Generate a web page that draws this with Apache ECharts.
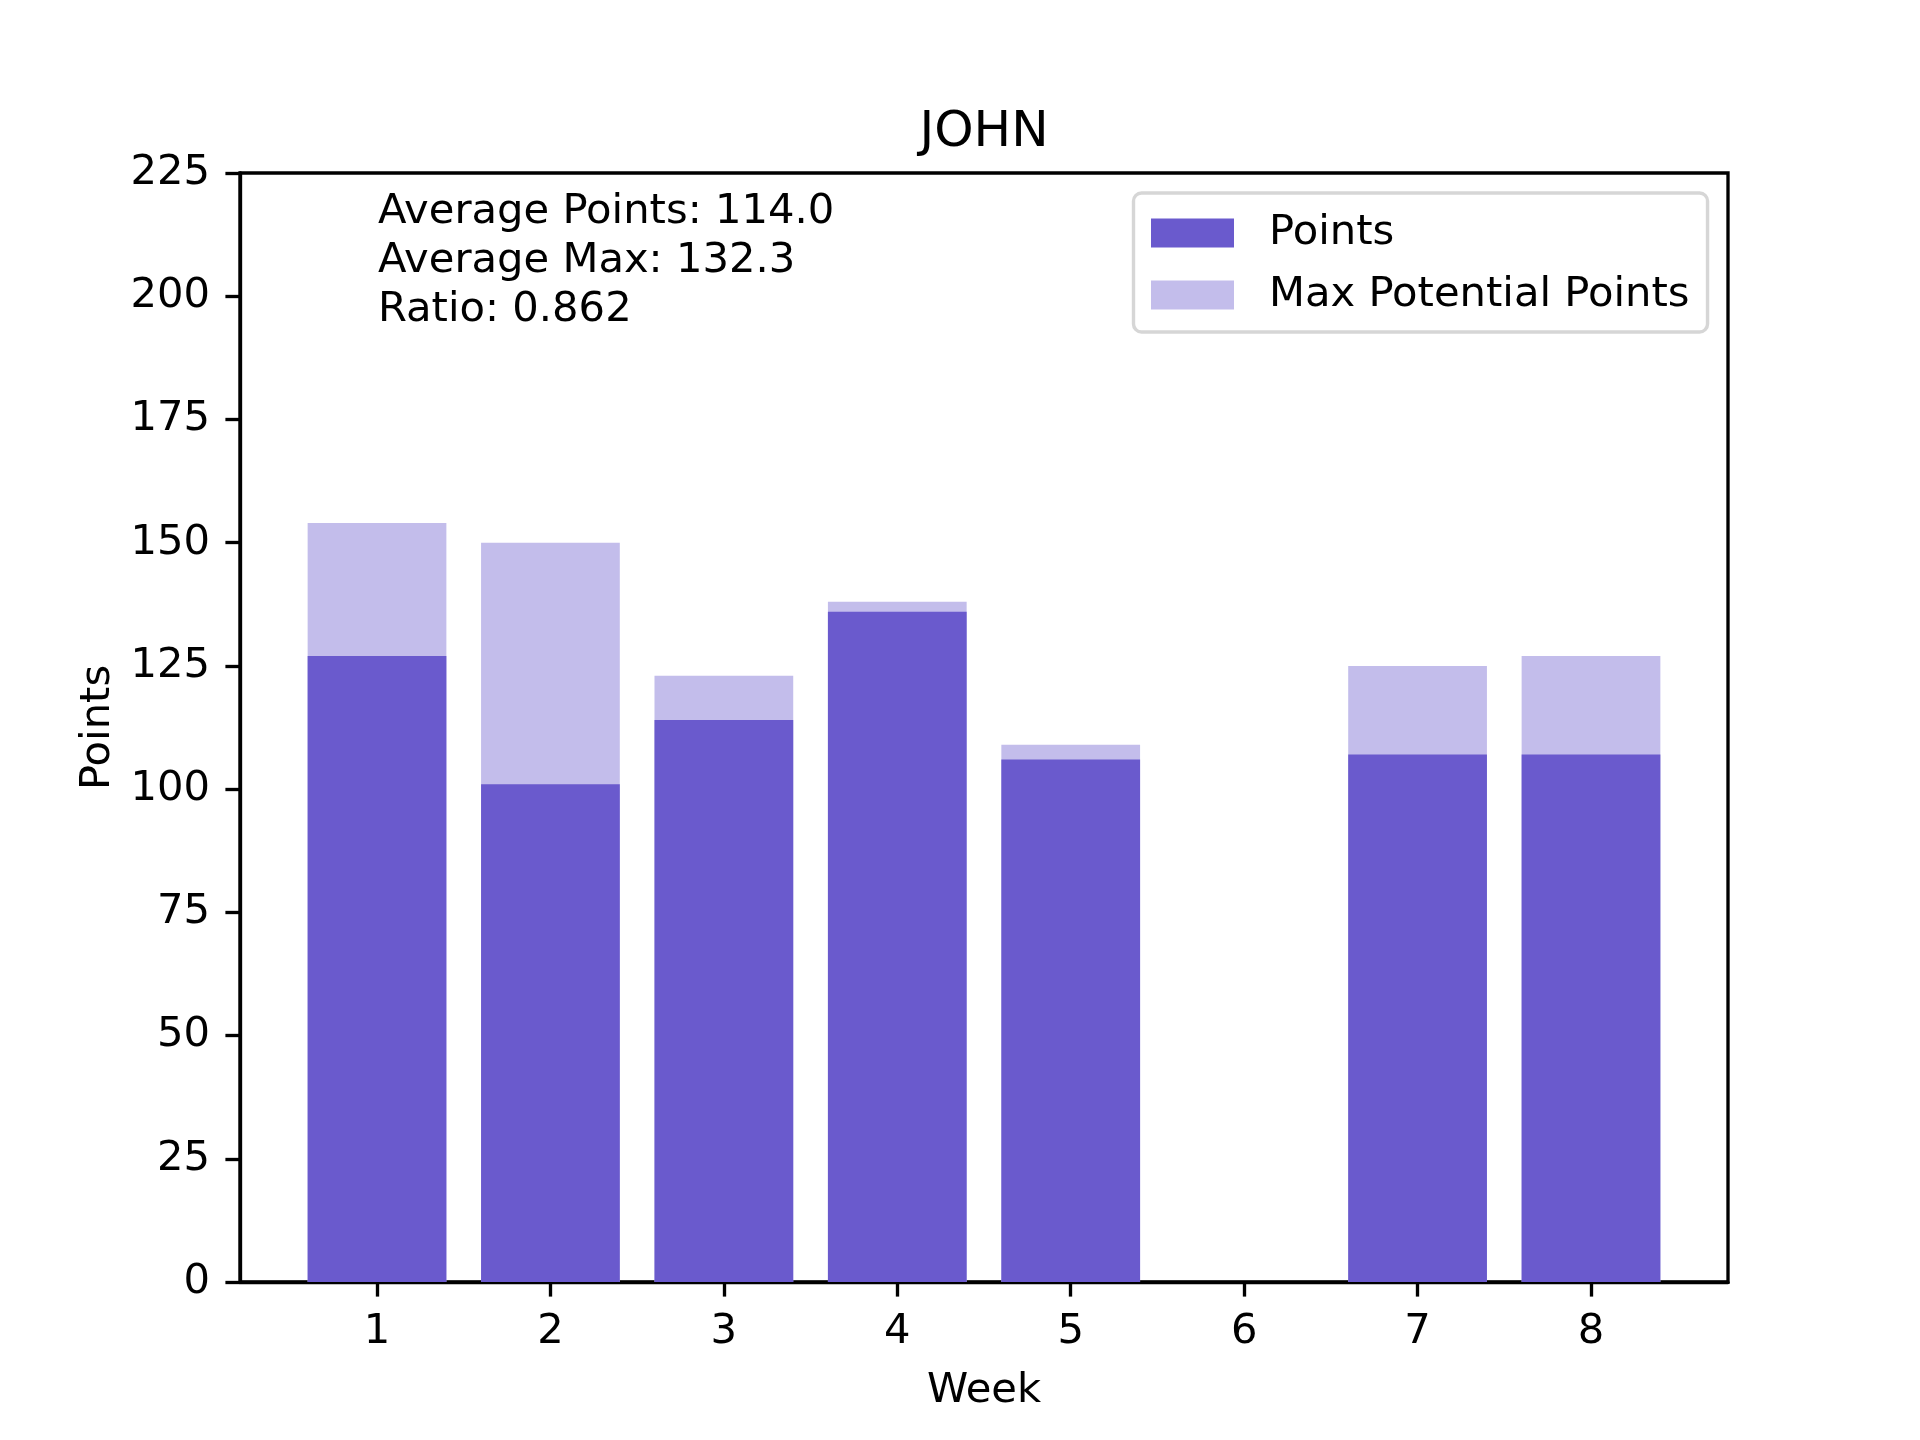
<!DOCTYPE html>
<html>
<head>
<meta charset="utf-8">
<script src="https://cdn.jsdelivr.net/npm/echarts@6/dist/echarts.min.js"></script>
<style>
html,body{margin:0;padding:0;background:#fff;}
#chart{width:1920px;height:1440px;}
</style>
</head>
<body>
<div id="chart"></div>
<script>
const weeks = [1, 2, 3, 4, 5, 6, 7, 8];
const points = [127, 101, 114, 136, 106, 0, 107, 107];
const maxPoints = [154, 150, 123, 138, 109, 0, 125, 127];
const yTicks = [0, 25, 50, 75, 100, 125, 150, 175, 200, 225];

const played = points.map((p, i) => ({p: p, m: maxPoints[i]})).filter(d => d.m > 0);
const avgP = played.reduce((s, d) => s + d.p, 0) / played.length;
const avgM = played.reduce((s, d) => s + d.m, 0) / played.length;
const ratio = avgP / avgM;
const annotation = 'Average Points: ' + avgP.toFixed(1) + '\nAverage Max: ' + avgM.toFixed(1) + '\nRatio: ' + ratio.toFixed(3);

const FONT = 'DejaVu Sans';
const FS = 41.7;
const LW = 3.33;
const TICK = 14.6;
const xMin = 0.21, xMax = 8.79;
const gridLeft = 240, gridRight = 1728, gridTop = 173, gridBottom = 1282;
const barW = 0.8 * (gridRight - gridLeft) / (xMax - xMin);

const chart = echarts.init(document.getElementById('chart'), null, {renderer: 'canvas'});
chart.setOption({
  animation: false,
  backgroundColor: '#ffffff',
  title: {
    text: 'JOHN',
    left: 919.5,
    top: 108,
    padding: 0,
    textStyle: {fontFamily: FONT, fontSize: 50, fontWeight: 'normal', color: '#000'}
  },
  legend: {
    data: ['Points', 'Max Potential Points'],
    orient: 'vertical',
    left: 1133.5,
    top: 193,
    padding: [19, 18, 16, 17.5],
    itemWidth: 83,
    itemHeight: 29,
    itemGap: 20,
    icon: 'rect',
    backgroundColor: 'rgba(255,255,255,0.8)',
    borderColor: '#d6d6d6',
    borderWidth: 3.4,
    borderRadius: 8,
    textStyle: {fontFamily: FONT, fontSize: FS, color: '#000', padding: [0, 0, 0, 30]}
  },
  grid: {
    left: gridLeft,
    right: 1920 - gridRight,
    top: gridTop,
    bottom: 1440 - gridBottom,
    show: true,
    borderColor: '#000',
    borderWidth: LW,
    backgroundColor: 'transparent'
  },
  xAxis: {
    type: 'value',
    min: xMin,
    max: xMax,
    name: 'Week',
    nameLocation: 'middle',
    nameGap: 88.6,
    nameTextStyle: {fontFamily: FONT, fontSize: FS, color: '#000'},
    axisLine: {show: true, onZero: false, lineStyle: {color: '#000', width: LW}},
    axisTick: {show: true, inside: false, length: TICK, lineStyle: {color: '#000', width: LW}, customValues: weeks},
    axisLabel: {show: true, margin: 29, fontFamily: FONT, fontSize: FS, color: '#000', customValues: weeks},
    splitLine: {show: false}
  },
  yAxis: {
    type: 'value',
    min: 0,
    max: 225,
    interval: 25,
    name: 'Points',
    nameLocation: 'middle',
    nameGap: 119.6,
    nameTextStyle: {fontFamily: FONT, fontSize: FS, color: '#000'},
    axisLine: {show: true, lineStyle: {color: '#000', width: LW}},
    axisTick: {show: true, inside: false, length: TICK, lineStyle: {color: '#000', width: LW}},
    axisLabel: {show: true, margin: 30, fontFamily: FONT, fontSize: FS, color: '#000',
      padding: [5, 0, 0, 0], customValues: yTicks},
    splitLine: {show: false}
  },
  graphic: [{
    type: 'text',
    left: 378,
    top: 187.5,
    z: 100,
    style: {
      text: annotation,
      fontFamily: FONT,
      fontSize: FS,
      lineHeight: 49.2,
      fill: '#000'
    }
  }],
  series: [
    {
      name: 'Max Potential Points',
      type: 'bar',
      barWidth: barW,
      barGap: '-100%',
      z: 2,
      itemStyle: {color: '#c3bdeb'},
      data: weeks.map((w, i) => [w, maxPoints[i]])
    },
    {
      name: 'Points',
      type: 'bar',
      barWidth: barW,
      barGap: '-100%',
      z: 3,
      itemStyle: {color: '#6a5acd'},
      data: weeks.map((w, i) => [w, points[i]])
    }
  ]
});
</script>
</body>
</html>
